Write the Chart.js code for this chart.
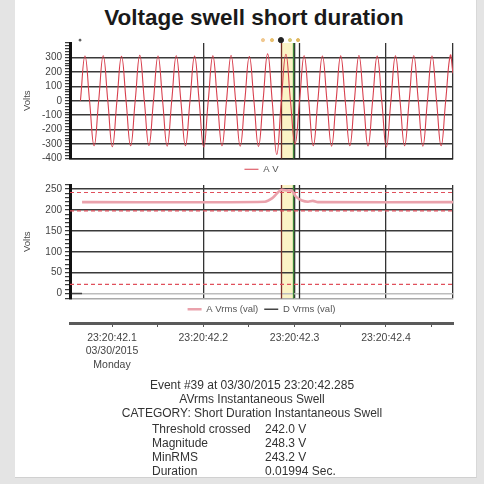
<!DOCTYPE html>
<html>
<head>
<meta charset="utf-8">
<script src="https://cdn.jsdelivr.net/npm/chart.js@4.4.0/dist/chart.umd.min.js"></script>
<style>
  html, body { margin: 0; padding: 0; width: 484px; height: 484px; overflow: hidden; background: #e4e4e4; font-family: "Liberation Sans", Arial, sans-serif; }
  #panel { position: absolute; left: 15px; top: 0; width: 461px; height: 477px; background: #fff; border-right: 1px solid #d8d8d8; border-bottom: 1px solid #d0d0d0; }
  canvas { position: absolute; left: 0; }
  #title { position: absolute; left: 14px; width: 480px; top: 5px; text-align: center; font-weight: bold; font-size: 22.5px; color: #1a1a1a; }
  #event { position: absolute; left: 0; top: 378px; width: 504px; color: #333; font-size: 12px; line-height: 14px; }
  #event .c { text-align: center; }
  #event .row { position: relative; height: 14px; }
  #event .row span { position: absolute; }
</style>
</head>
<body>
<div id="panel"></div>
<div id="title">Voltage swell short duration</div>
<canvas id="wave" width="484" height="156" style="top:28px"></canvas>
<canvas id="rms" width="484" height="148" style="top:176px"></canvas>
<canvas id="time" width="484" height="62" style="top:312px"></canvas>
<div id="event">
  <div class="c">Event #39 at 03/30/2015 23:20:42.285</div>
  <div class="c">AVrms Instantaneous Swell</div>
  <div class="c">CATEGORY: Short Duration Instantaneous Swell</div>
  <div style="height:2px"></div>
  <div class="row"><span style="left:152px">Threshold crossed</span><span style="left:265px">242.0 V</span></div>
  <div class="row"><span style="left:152px">Magnitude</span><span style="left:265px">248.3 V</span></div>
  <div class="row"><span style="left:152px">MinRMS</span><span style="left:265px">243.2 V</span></div>
  <div class="row"><span style="left:152px">Duration</span><span style="left:265px">0.01994 Sec.</span></div>
</div>
<script>
// time in seconds after 23:20:42.000
const xMin = 0.054;
const xMax = 0.4734;

// A V waveform (zero crossings, peaks, troughs)
const waveTime = [
  0.0654, 0.0704, 0.0754, 0.0804, 0.0854, 0.0904, 0.0954, 0.1004, 0.1054, 0.1104,
  0.1154, 0.1204, 0.1254, 0.1304, 0.1354, 0.1404, 0.1454, 0.1504, 0.1554, 0.1604,
  0.1654, 0.1704, 0.1754, 0.1804, 0.1854, 0.1904, 0.1954, 0.2004, 0.2054, 0.2104,
  0.2154, 0.2204, 0.2254, 0.2304, 0.2354, 0.2404, 0.2454, 0.2504, 0.2554, 0.2604,
  0.2654, 0.2704, 0.2754, 0.2804, 0.2854, 0.2904, 0.2954, 0.3004, 0.3054, 0.3104,
  0.3154, 0.3204, 0.3254, 0.3304, 0.3354, 0.3404, 0.3454, 0.3504, 0.3554, 0.3604,
  0.3654, 0.3704, 0.3754, 0.3804, 0.3854, 0.3904, 0.3954, 0.4004, 0.4054, 0.4104,
  0.4154, 0.4204, 0.4254, 0.4304, 0.4354, 0.4404, 0.4454, 0.4504, 0.4554, 0.4604,
  0.4654, 0.4704, 0.4734
];
const waveVolts = [
  0, 310, 0, -312, 0, 312, 0, -318, 0, 308,
  0, -312, 0, 314, 0, -310, 0, 310, 0, -314,
  0, 312, 0, -312, 0, 309, 0, -320, 0, 311,
  0, -312, 0, 313, 0, -314, 0, 306, 0, -316,
  0, 325, 0, -372, 0, 322, 0, -300, 0, 312,
  0, -312, 0, 310, 0, -314, 0, 311, 0, -312,
  0, 313, 0, -313, 0, 309, 0, -320, 0, 311,
  0, -312, 0, 312, 0, -314, 0, 310, 0, -312,
  0, 314, 190
];

// RMS values
const rmsTime = [0.0672, 0.2675, 0.2752, 0.2807, 0.285, 0.2916, 0.2971, 0.3014, 0.308, 0.3146, 0.32, 0.3255, 0.4734];
const rmsA = [219, 220, 228, 240, 248, 247, 246, 232, 223, 220, 222, 219, 219];
const rmsDTime = [0.056, 0.0672];
const rmsD = [0, 0];

// threshold lines
const limitTime = [xMin, xMax];
const swellLimit = [242, 242];
const sagLimit = [198, 198];
const interruptLimit = [22, 22];

// event markers above the waveform
const markerTime = [0.065, 0.2653, 0.2752, 0.285, 0.2949, 0.3037];
const markerColors = ['#555555', '#f0c890', '#e8c070', '#222222', '#d8c878', '#e0b860'];
const markerSizes = [1, 1.6, 1.6, 2.6, 1.6, 1.6];

const bandStart = 0.285;
const bandEnd = 0.2985;
const eventLineTime = [0.285, 0.2985, 0.3048];
const eventLineColors = ['#7a3028', '#3f8a3a', '#2a2a2a'];

const timeTicks = [0.1, 0.2, 0.3, 0.4];
const timeLabels = [
  ['23:20:42.1', '03/30/2015', 'Monday'],
  ['23:20:42.2'],
  ['23:20:42.3'],
  ['23:20:42.4'],
];

Chart.defaults.font.family = '"Liberation Sans", Arial, sans-serif';
Chart.defaults.color = '#444';

function pts(xs, ys) {
  return xs.map((x, i) => ({ x: x, y: ys[i] }));
}

const eventMarks = {
  id: 'eventMarks',
  afterLayout(chart) {
    // center the legend under the plot area, not the whole canvas
    const l = chart.legend;
    const shift = (chart.chartArea.left + chart.chartArea.right) / 2 - (l.left + l.right) / 2;
    l.left += shift;
    l.right += shift;
  },
  beforeDraw(chart) {
    const { ctx, chartArea, scales } = chart;
    const x1 = scales.x.getPixelForValue(bandStart);
    const x2 = scales.x.getPixelForValue(bandEnd);
    ctx.save();
    ctx.fillStyle = '#fbf3c6';
    ctx.fillRect(x1, chartArea.top, x2 - x1, chartArea.bottom - chartArea.top);
    ctx.restore();
  },
  beforeDatasetsDraw(chart) {
    const { ctx, chartArea, scales } = chart;
    ctx.save();
    ctx.lineWidth = 1.3;
    eventLineTime.forEach(function (t, i) {
      const x = Math.round(scales.x.getPixelForValue(t)) + 0.5;
      ctx.strokeStyle = eventLineColors[i];
      ctx.beginPath();
      ctx.moveTo(x, chartArea.top);
      ctx.lineTo(x, chartArea.bottom);
      ctx.stroke();
    });
    ctx.restore();
  },
};

function xScale(borderColor) {
  return {
    type: 'linear',
    min: xMin,
    max: xMax,
    ticks: { display: false, stepSize: 0.1 },
    grid: { color: '#333', lineWidth: 1.3, drawTicks: false },
    border: { color: borderColor, width: 1.5 },
    afterFit: (s) => { s.height = 0; },
  };
}

function yScale(min, max, step, major, gridColor) {
  return {
    min: min,
    max: max,
    ticks: {
      stepSize: step,
      autoSkip: false,
      padding: 3,
      font: { size: 10 },
      color: '#444',
      callback: (v) => (v % major === 0 && v < max && (min < -100 || v >= 0) ? v : ''),
    },
    grid: {
      color: gridColor,
      lineWidth: 1.4,
      tickColor: '#111',
      tickLength: 5,
      tickWidth: 1,
    },
    border: { color: '#111', width: 3 },
    title: { display: true, text: 'Volts', font: { size: 9.5 }, color: '#444', padding: { top: 22, bottom: 0 } },
    afterFit: (s) => { s.width = 70; },
  };
}

const legendLabels = {
  usePointStyle: true,
  pointStyle: 'line',
  pointStyleWidth: 14,
  font: { size: 9.5 },
  color: '#555',
  padding: 6,
};

new Chart(document.getElementById('wave'), {
  type: 'line',
  data: {
    datasets: [
      {
        label: 'A V',
        data: pts(waveTime, waveVolts),
        borderColor: '#d8404e',
        borderWidth: 1.1,
        pointRadius: 0,
        tension: 0.45,
      },
      {
        label: 'markers',
        data: pts(markerTime, markerTime.map(() => 420)),
        showLine: false,
        pointRadius: markerSizes,
        pointBackgroundColor: markerColors,
        pointBorderColor: markerColors,
        clip: false,
      },
    ],
  },
  options: {
    animation: false,
    responsive: false,
    layout: { padding: { top: 15, right: 31, left: 0, bottom: 0 } },
    plugins: {
      legend: { position: 'bottom', labels: Object.assign({ filter: (item) => item.text === 'A V' }, legendLabels) },
      tooltip: { enabled: false },
    },
    scales: {
      x: xScale('#222'),
      y: yScale(-400, 400, 20, 100, (c) => (c.tick.value % 100 === 0 && c.tick.value < 400 ? '#3a3a3a' : 'rgba(0,0,0,0)')),
    },
  },
  plugins: [eventMarks],
});

new Chart(document.getElementById('rms'), {
  type: 'line',
  data: {
    datasets: [
      {
        label: 'A Vrms (val)',
        data: pts(rmsTime, rmsA),
        borderColor: '#eaa2ac',
        borderWidth: 2.6,
        pointRadius: 0,
        tension: 0.3,
      },
      {
        label: 'D Vrms (val)',
        data: pts(rmsDTime, rmsD),
        borderColor: '#444',
        borderWidth: 1.3,
        pointRadius: 0,
      },
      { label: 'swell', data: pts(limitTime, swellLimit), borderColor: '#e0505c', borderWidth: 1.2, borderDash: [4, 3], pointRadius: 0 },
      { label: 'sag', data: pts(limitTime, sagLimit), borderColor: '#e0505c', borderWidth: 1.2, borderDash: [4, 3], pointRadius: 0 },
      { label: 'interruption', data: pts(limitTime, interruptLimit), borderColor: '#e0505c', borderWidth: 1.2, borderDash: [4, 3], pointRadius: 0 },
    ],
  },
  options: {
    animation: false,
    responsive: false,
    layout: { padding: { top: 7, right: 31, left: 0, bottom: 0 } },
    plugins: {
      legend: { position: 'bottom', labels: Object.assign({ filter: (item) => item.text.indexOf('Vrms') >= 0 }, legendLabels) },
      tooltip: { enabled: false },
    },
    scales: {
      x: xScale('#aaa'),
      y: yScale(-12, 260, 10, 50, (c) => {
        const v = c.tick.value;
        if (v === 0) return '#bdbdbd';
        return v % 50 === 0 && v > 0 && v < 260 ? '#3a3a3a' : 'rgba(0,0,0,0)';
      }),
    },
  },
  plugins: [eventMarks],
});

new Chart(document.getElementById('time'), {
  type: 'line',
  data: { datasets: [] },
  options: {
    animation: false,
    responsive: false,
    layout: { padding: { top: 10, right: 31, left: 70, bottom: 0 } },
    plugins: { legend: { display: false }, tooltip: { enabled: false } },
    scales: {
      x: {
        type: 'linear',
        min: xMin,
        max: xMax,
        ticks: {
          stepSize: 0.05,
          includeBounds: false,
          autoSkip: false,
          maxRotation: 0,
          padding: 4,
          font: { size: 10.5, lineHeight: 1.3 },
          color: '#444',
          callback: (v) => {
            const i = timeTicks.findIndex((t) => Math.abs(t - v) < 1e-6);
            return i >= 0 ? timeLabels[i] : '';
          },
        },
        grid: {
          drawOnChartArea: false,
          tickLength: 4,
          tickColor: '#555',
        },
        border: { color: '#5a5a5a', width: 3 },
        afterFit: (s) => { s.height = 51; },
      },
      y: { display: false, min: 0, max: 1 },
    },
  },
});
</script>
</body>
</html>
